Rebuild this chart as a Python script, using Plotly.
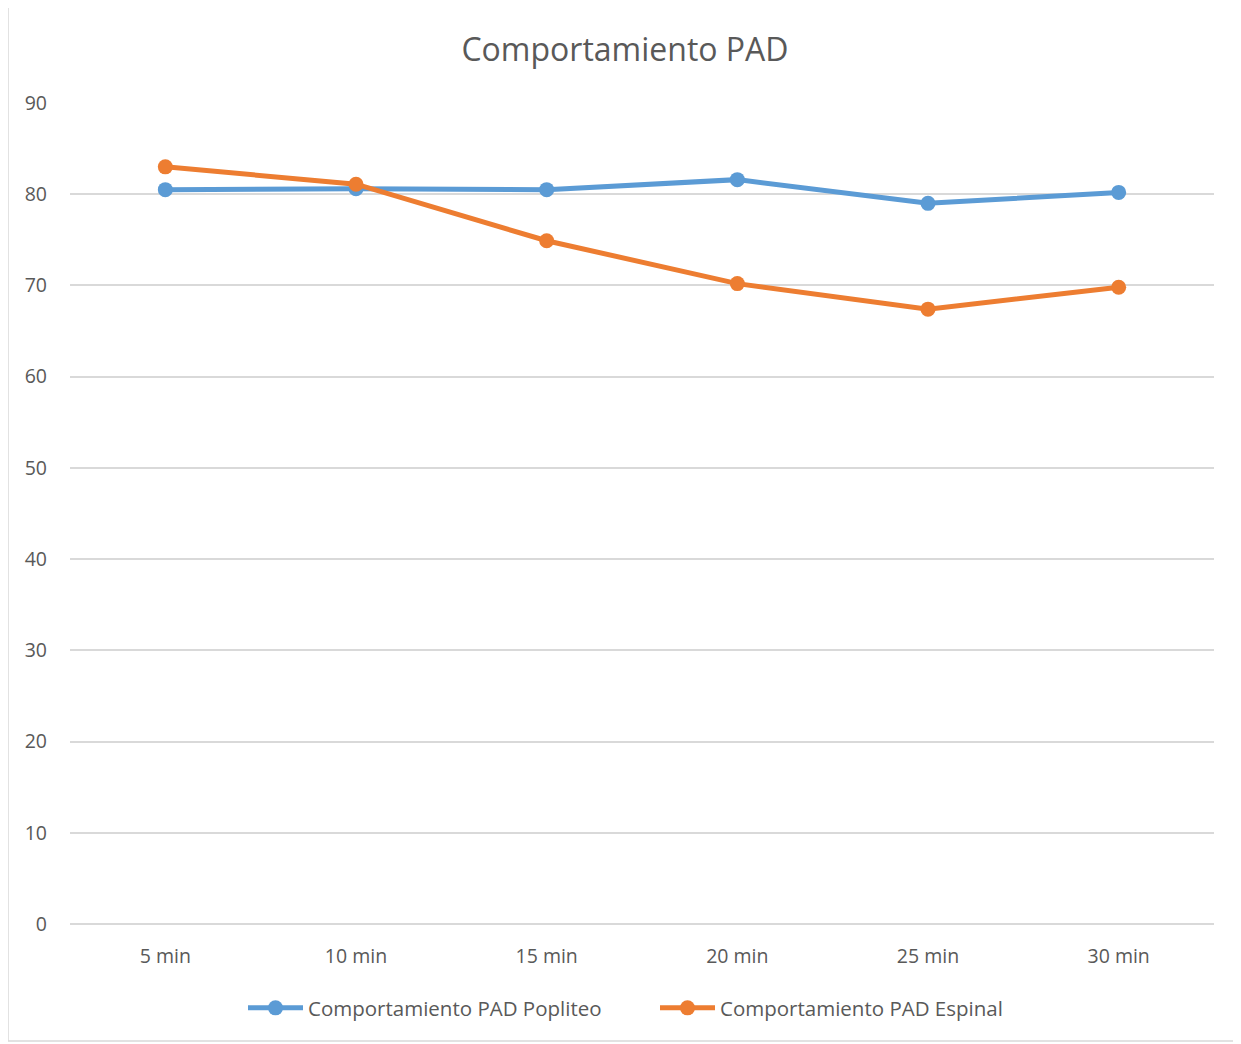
import plotly.graph_objects as go

categories = ["5 min", "10 min", "15 min", "20 min", "25 min", "30 min"]
popliteo = [80.5, 80.6, 80.5, 81.6, 79.0, 80.2]
espinal = [83.0, 81.1, 74.9, 70.2, 67.4, 69.8]
series_names = ["Comportamiento PAD Popliteo", "Comportamiento PAD Espinal"]
title_text = "Comportamiento PAD"

# the page body adds an 8px offset; compensate in margins
OFF = 8
W, H = 1241, 1044
L, R, T, B = 70 - OFF, 27 + OFF, 103 - OFF, 120 + OFF
pw, ph = W - L - R, H - T - B

FONT = "Open Sans, Liberation Sans, sans-serif"
TXT = "#595959"

fig = go.Figure()
fig.add_trace(go.Scatter(x=categories, y=popliteo, name=series_names[0], mode="lines+markers",
                         line=dict(color="#5B9BD5", width=5),
                         marker=dict(size=15, color="#5B9BD5")))
fig.add_trace(go.Scatter(x=categories, y=espinal, name=series_names[1], mode="lines+markers",
                         line=dict(color="#ED7D31", width=5),
                         marker=dict(size=15, color="#ED7D31")))

fig.update_layout(
    width=W, height=H,
    margin=dict(l=L, r=R, t=T, b=B),
    paper_bgcolor="white", plot_bgcolor="white",
    font=dict(family=FONT, color=TXT, size=19),
    title=dict(text=title_text, x=(625 - OFF) / W, xanchor="center", y=1 - (50 - OFF) / H, yanchor="middle",
               font=dict(size=32, color=TXT, family=FONT)),
    xaxis=dict(type="category", range=[-0.5, 5.5], showgrid=False, showline=False,
               ticks="", tickfont=dict(size=19.5, color=TXT), ticklabelstandoff=18),
    yaxis=dict(range=[0, 90], dtick=10, showgrid=True, gridcolor="#D9D9D9", gridwidth=1.5,
               zeroline=True, zerolinecolor="#D9D9D9", zerolinewidth=1.5,
               showline=False, ticks="", tickfont=dict(size=19.5, color=TXT), ticklabelstandoff=22),
    legend=dict(orientation="h", x=(243 - 70) / pw, xanchor="left", y=(924 - 1008) / ph, yanchor="middle",
                font=dict(size=20.5, color=TXT), itemwidth=55, bgcolor="rgba(0,0,0,0)",
                entrywidth=342, entrywidthmode="pixels"),
    showlegend=True,
)

fig.add_shape(type="rect", xref="paper", yref="paper",
              x0=(8 - 70) / pw, x1=(1240 - 70) / pw,
              y0=(924 - 1041) / ph, y1=(924 - 5) / ph,
              line=dict(color="#D9D9D9", width=1.5), fillcolor="rgba(0,0,0,0)", layer="below")

fig.write_html("out.html")
